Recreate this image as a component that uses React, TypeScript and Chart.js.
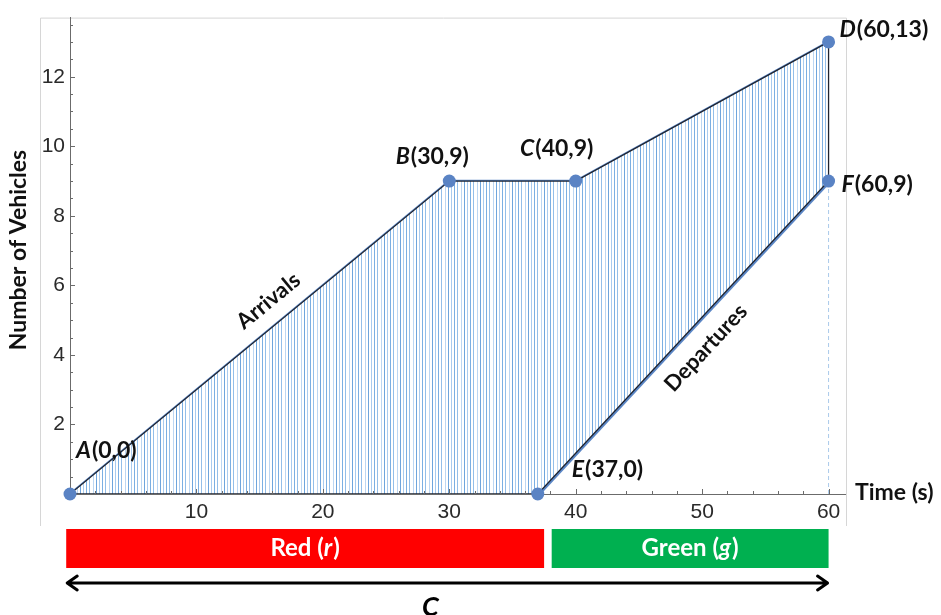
import { useEffect, useRef } from 'react';
import { Chart, registerables } from 'chart.js';

Chart.register(...registerables);

// Cumulative vehicle counts at a signalised approach
const arrivalT = [0, 30, 40, 60];
const arrivalN = [0, 9, 9, 13];
const departureT = [37, 60];
const departureN = [0, 9];

// Labelled corner points
const pointNames = ['A', 'B', 'C', 'D', 'E', 'F'];
const pointT = [0, 30, 40, 60, 37, 60];
const pointN = [0, 9, 9, 13, 0, 9];

// Axis ticks
const xMajorTicks = [10, 20, 30, 40, 50, 60];
const yMajorTicks = [2, 4, 6, 8, 10, 12];
const xMinorStep = 2;
const yMinorStep = 0.5;
const xMax = 61.3;
const yMax = 13.7;

// Signal phases under the time axis
const phaseNames = ['Red', 'Green'];
const phaseSymbols = ['r', 'g'];
const phaseStart = [-0.3, 38.1];
const phaseEnd = [37.5, 60];
const phaseColors = ['#ff0000', '#00b050'];
const cycleSymbol = 'C';

const LABEL_FONT = 'Lato, "Open Sans", sans-serif';
const TICK_FONT = '"Liberation Sans", Arial, sans-serif';

// pixel placement of each point label relative to its marker
const labelPlacement: Record<string, { dx: number; dy: number; align: 'left' | 'center' }> = {
  A: { dx: 6, dy: -43, align: 'left' },
  B: { dx: -17, dy: -24, align: 'center' },
  C: { dx: -19, dy: -32, align: 'center' },
  D: { dx: 11, dy: -12, align: 'left' },
  E: { dx: 34, dy: -24, align: 'left' },
  F: { dx: 13, dy: 4, align: 'left' },
};

function makeHatch(): CanvasPattern | string {
  const c = document.createElement('canvas');
  c.width = 16;
  c.height = 4;
  const g = c.getContext('2d');
  if (!g) return '#9fc4ea';
  g.fillStyle = '#ffffff';
  g.fillRect(0, 0, 16, 4);
  const xs = [0, 3, 6, 9, 13];
  const cols = ['#6fa5dc', '#a9cbef', '#7cafe2', '#93bee9', '#bcd6f2'];
  xs.forEach((x, i) => {
    g.fillStyle = cols[i];
    g.fillRect(x, 0, 1, 4);
  });
  const p = g.createPattern(c, 'repeat');
  return p || '#9fc4ea';
}

// Writes a run of bold text pieces, some of them italic
function drawMixed(
  ctx: CanvasRenderingContext2D,
  parts: { text: string; italic: boolean }[],
  x: number,
  y: number,
  size: number,
  align: 'left' | 'center',
  color: string
) {
  ctx.save();
  ctx.fillStyle = color;
  ctx.textBaseline = 'middle';
  ctx.textAlign = 'left';
  const fonts = parts.map((p) => `${p.italic ? 'italic ' : ''}bold ${size}px ${LABEL_FONT}`);
  const widths = parts.map((p, i) => {
    ctx.font = fonts[i];
    return ctx.measureText(p.text).width + (p.italic ? 1 : 0);
  });
  const total = widths.reduce((a, b) => a + b, 0);
  let cx = align === 'center' ? x - total / 2 : x;
  parts.forEach((p, i) => {
    ctx.font = fonts[i];
    ctx.fillText(p.text, cx, y);
    cx += widths[i];
  });
  ctx.restore();
}

function drawRotated(
  ctx: CanvasRenderingContext2D,
  text: string,
  x: number,
  y: number,
  angle: number,
  size: number
) {
  ctx.save();
  ctx.translate(x, y);
  ctx.rotate(angle);
  ctx.font = `bold ${size}px ${LABEL_FONT}`;
  ctx.fillStyle = '#111111';
  ctx.textAlign = 'center';
  ctx.textBaseline = 'middle';
  ctx.fillText(text, 0, 0);
  ctx.restore();
}

const decorations = {
  id: 'decorations',
  beforeDraw(chart: any) {
    const { ctx, chartArea } = chart;
    ctx.save();
    ctx.strokeStyle = '#d6d6d6';
    ctx.lineWidth = 1;
    ctx.beginPath();
    ctx.moveTo(40.5, 526);
    ctx.lineTo(40.5, chartArea.top + 0.5);
    ctx.lineTo(846.5, chartArea.top + 0.5);
    ctx.lineTo(846.5, 526);
    ctx.stroke();
    ctx.restore();
  },
  afterDraw(chart: any) {
    const { ctx, chartArea, scales } = chart;
    const xs = scales.x;
    const ys = scales.y;
    const x0 = xs.getPixelForValue(0);
    const y0 = ys.getPixelForValue(0);

    // inward tick marks
    ctx.save();
    ctx.strokeStyle = '#6b6b6b';
    ctx.lineWidth = 1;
    ctx.beginPath();
    for (let v = yMinorStep; v < yMax; v += yMinorStep) {
      const py = Math.round(ys.getPixelForValue(v)) + 0.5;
      const len = yMajorTicks.includes(v) ? 5 : 3;
      ctx.moveTo(x0, py);
      ctx.lineTo(x0 + len, py);
    }
    for (let v = xMinorStep; v < xMax; v += xMinorStep) {
      const px = Math.round(xs.getPixelForValue(v)) + 0.5;
      const len = xMajorTicks.includes(v) ? 5 : 3;
      ctx.moveTo(px, y0);
      ctx.lineTo(px, y0 - len);
    }
    ctx.stroke();
    ctx.restore();

    // axis titles
    drawRotated(ctx, 'Number of Vehicles', 19, 250, -Math.PI / 2, 23);
    ctx.save();
    ctx.font = `bold 23px ${LABEL_FONT}`;
    ctx.fillStyle = '#111111';
    ctx.textBaseline = 'middle';
    ctx.textAlign = 'left';
    ctx.fillText('Time (s)', chartArea.right + 10, y0 - 1);
    ctx.restore();

    // point labels
    pointNames.forEach((name, i) => {
      const place = labelPlacement[name];
      const px = xs.getPixelForValue(pointT[i]) + place.dx;
      const py = ys.getPixelForValue(pointN[i]) + place.dy;
      drawMixed(
        ctx,
        [
          { text: name, italic: true },
          { text: `(${pointT[i]},${pointN[i]})`, italic: false },
        ],
        px,
        py,
        23,
        place.align,
        '#111111'
      );
    });

    // curve names along the lines
    const ax = [xs.getPixelForValue(arrivalT[0]), xs.getPixelForValue(arrivalT[1])];
    const ay = [ys.getPixelForValue(arrivalN[0]), ys.getPixelForValue(arrivalN[1])];
    drawRotated(
      ctx,
      'Arrivals',
      xs.getPixelForValue(15.7),
      ys.getPixelForValue(5.55),
      Math.atan2(ay[1] - ay[0], ax[1] - ax[0]),
      22
    );
    const dx = [xs.getPixelForValue(departureT[0]), xs.getPixelForValue(departureT[1])];
    const dy = [ys.getPixelForValue(departureN[0]), ys.getPixelForValue(departureN[1])];
    drawRotated(
      ctx,
      'Departures',
      xs.getPixelForValue(50.3),
      ys.getPixelForValue(4.2),
      Math.atan2(dy[1] - dy[0], dx[1] - dx[0]),
      22
    );

    // signal phase bars
    const barTop = chartArea.bottom + 35;
    const barH = 39;
    phaseNames.forEach((name, i) => {
      const left = xs.getPixelForValue(phaseStart[i]);
      const right = xs.getPixelForValue(phaseEnd[i]);
      ctx.fillStyle = phaseColors[i];
      ctx.fillRect(left, barTop, right - left, barH);
      drawMixed(
        ctx,
        [
          { text: `${name} (`, italic: false },
          { text: phaseSymbols[i], italic: true },
          { text: ')', italic: false },
        ],
        (left + right) / 2,
        barTop + barH / 2,
        24,
        'center',
        '#ffffff'
      );
    });

    // cycle length arrow
    const arrowY = chartArea.bottom + 89;
    const aL = xs.getPixelForValue(phaseStart[0]);
    const aR = xs.getPixelForValue(phaseEnd[phaseEnd.length - 1]);
    ctx.save();
    ctx.strokeStyle = '#000000';
    ctx.lineWidth = 3;
    ctx.lineCap = 'round';
    ctx.lineJoin = 'round';
    ctx.beginPath();
    ctx.moveTo(aL + 1, arrowY);
    ctx.lineTo(aR - 1, arrowY);
    ctx.moveTo(aL + 11, arrowY - 7);
    ctx.lineTo(aL + 1, arrowY);
    ctx.lineTo(aL + 11, arrowY + 7);
    ctx.moveTo(aR - 11, arrowY - 7);
    ctx.lineTo(aR - 1, arrowY);
    ctx.lineTo(aR - 11, arrowY + 7);
    ctx.stroke();
    ctx.font = `italic bold 27px ${LABEL_FONT}`;
    ctx.fillStyle = '#000000';
    ctx.textAlign = 'center';
    ctx.textBaseline = 'alphabetic';
    ctx.fillText(cycleSymbol, xs.getPixelForValue(28.5), 616);
    ctx.restore();
  },
};

export default function App() {
  const ref = useRef<HTMLCanvasElement | null>(null);

  useEffect(() => {
    document.body.style.margin = '0';
    const canvas = ref.current;
    if (!canvas) return;

    const arrivals = arrivalT.map((t, i) => ({ x: t, y: arrivalN[i] }));
    const departures = departureT.map((t, i) => ({ x: t, y: departureN[i] }));
    const queueRegion = [...arrivals, ...departures.slice().reverse(), arrivals[0]];
    const points = pointT.map((t, i) => ({ x: t, y: pointN[i] }));
    const lastT = departureT[departureT.length - 1];
    const dropLine = [
      { x: lastT, y: 0 },
      { x: lastT, y: departureN[departureN.length - 1] },
    ];

    const chart = new Chart(canvas, {
      type: 'line',
      data: {
        datasets: [
          {
            label: 'points',
            data: points,
            showLine: false,
            pointRadius: 6.5,
            pointBackgroundColor: '#5a83c4',
            pointBorderWidth: 0,
            clip: false,
            order: -1,
          },
          {
            label: 'queue',
            data: queueRegion,
            fill: 'shape',
            backgroundColor: makeHatch(),
            borderColor: '#1f2430',
            borderWidth: 1.3,
            pointRadius: 0,
            tension: 0,
            order: 0,
          },
          {
            label: 'Arrivals',
            data: arrivals,
            borderColor: '#5b86c5',
            borderWidth: 2.5,
            pointRadius: 0,
            fill: false,
            order: 1,
          },
          {
            label: 'Departures',
            data: departures,
            borderColor: '#5b86c5',
            borderWidth: 5,
            pointRadius: 0,
            fill: false,
            order: 1,
          },
          {
            label: 'drop',
            data: dropLine,
            borderColor: '#a9c9ea',
            borderWidth: 1,
            borderDash: [4, 3],
            pointRadius: 0,
            fill: false,
            order: 2,
          },
        ],
      },
      options: {
        responsive: false,
        animation: false,
        devicePixelRatio: 1,
        layout: { padding: { top: 14, right: 96, left: 0, bottom: 0 } },
        plugins: {
          legend: { display: false },
          tooltip: { enabled: false },
        },
        scales: {
          x: {
            type: 'linear',
            min: 0,
            max: xMax,
            grid: { display: false, drawTicks: false },
            border: { display: true, color: '#6b6b6b', width: 1 },
            afterBuildTicks: (s: any) => {
              s.ticks = xMajorTicks.map((v) => ({ value: v }));
            },
            ticks: {
              autoSkip: false,
              maxRotation: 0,
              padding: 6,
              color: '#2a2a2a',
              font: { family: TICK_FONT, size: 21 },
              callback: (v: any) => String(v),
            },
            afterFit: (s: any) => {
              s.height = 121;
            },
          },
          y: {
            type: 'linear',
            min: 0,
            max: yMax,
            grid: { display: false, drawTicks: false },
            border: { display: true, color: '#6b6b6b', width: 1 },
            afterBuildTicks: (s: any) => {
              s.ticks = yMajorTicks.map((v) => ({ value: v }));
            },
            ticks: {
              autoSkip: false,
              padding: 5,
              color: '#2a2a2a',
              font: { family: TICK_FONT, size: 21 },
              callback: (v: any) => String(v),
            },
            afterFit: (s: any) => {
              s.width = 70;
            },
          },
        },
      },
      plugins: [decorations],
    });

    return () => chart.destroy();
  }, []);

  return (
    <div style={{ width: 941, height: 615, position: 'relative', background: '#ffffff' }}>
      <canvas ref={ref} width={941} height={615} style={{ display: 'block' }} />
    </div>
  );
}
